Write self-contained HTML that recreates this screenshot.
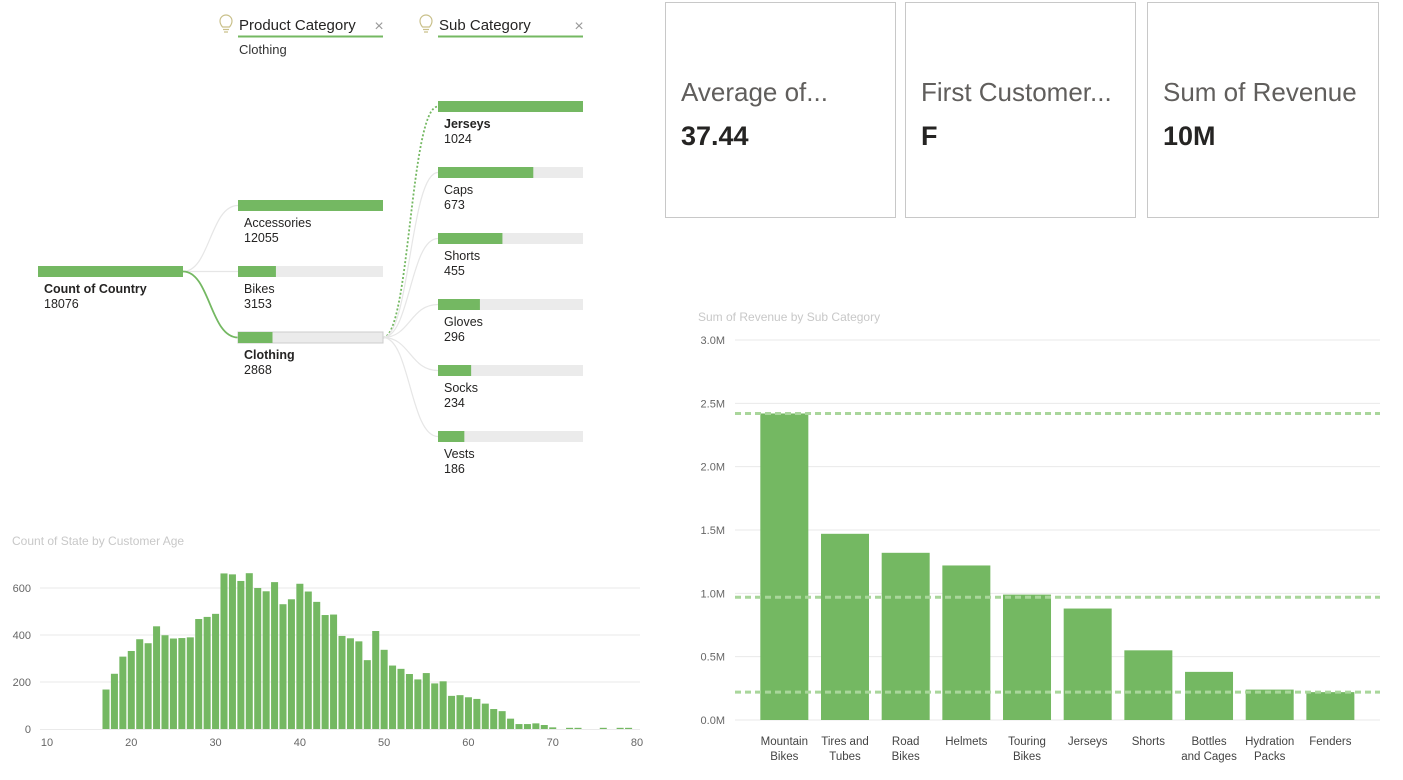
<!DOCTYPE html>
<html><head><meta charset="utf-8">
<style>
body{margin:0;width:1403px;height:766px;background:#fff;font-family:"Liberation Sans","DejaVu Sans",sans-serif;overflow:hidden;position:relative}
.card{position:absolute;top:2px;height:216px;border:1px solid #c8c8c8;box-sizing:border-box}
.card .t{position:absolute;left:15px;top:74px;font-size:26px;color:#605e5c;white-space:nowrap}
.card .v{position:absolute;left:15px;top:118px;font-size:27px;font-weight:bold;color:#252423}
</style></head><body>
<div class="card" style="left:665px;width:231px"><div class="t">Average of...</div><div class="v">37.44</div></div>
<div class="card" style="left:905px;width:231px"><div class="t">First Customer...</div><div class="v">F</div></div>
<div class="card" style="left:1147px;width:232px"><div class="t">Sum of Revenue</div><div class="v">10M</div></div>

<svg id="tree" width="600" height="490" style="position:absolute;left:0;top:0"></svg>
<svg id="hist" width="660" height="260" style="position:absolute;left:0;top:520"></svg>
<svg id="bar" width="740" height="480" style="position:absolute;left:663px;top:290px"></svg>

<script>
const NS="http://www.w3.org/2000/svg";
function mk(p,t,a,txt){const e=document.createElementNS(NS,t);for(const k in a)e.setAttribute(k,a[k]);if(txt!==undefined)e.textContent=txt;p.appendChild(e);return e;}

// ---------- Decomposition tree ----------
const rootLabel="Count of Country";const rootValue=18076;
const catNames=["Accessories","Bikes","Clothing"];
const catValues=[12055,3153,2868];
const subNames=["Jerseys","Caps","Shorts","Gloves","Socks","Vests"];
const subValues=[1024,673,455,296,234,186];
(function(){
const s=document.getElementById('tree');
[[226,"Product Category",238,383],[426,"Sub Category",438,583]].forEach(([ix,txt,x0,x1],i)=>{
 const g=mk(s,'g',{});
 
 
 mk(g,'path',{d:`M${ix-3.5},27 C${ix-6},24 ${ix-6},21 ${ix-6},21 A6,6 0 1 1 ${ix+6},21 C${ix+6},22 ${ix+6},24 ${ix+3.5},27 Z M${ix-3},29.5 L${ix+3},29.5 M${ix-2},32 L${ix+2},32`,fill:'none',stroke:'#c9c08a','stroke-width':1.2});
 mk(g,'text',{x:x0+1,y:30,'font-size':15,fill:'#252423'},txt);
 mk(g,'line',{x1:x0,x2:x1,y1:36.5,y2:36.5,stroke:'#74b862','stroke-width':2});
 mk(g,'text',{x:x1-4,y:31,'font-size':16,fill:'#999','text-anchor':'middle'},'×');
});
mk(s,'text',{x:239,y:54,'font-size':13,fill:'#333'},'Clothing');
function node(x,y,frac,name,val,bold,sel,nm){
 const g=mk(s,'g',{});
 
 
 mk(g,'rect',{x:x,y:y,width:145,height:11,fill:'#ebebeb',stroke:sel?'#ccc':'none'});
 mk(g,'rect',{x:x,y:y,width:145*frac,height:11,fill:'#74b862'});
 mk(g,'text',{x:x+6,y:y+27,'font-size':12.5,fill:'#252423','font-weight':bold?'bold':'normal'},name);
 mk(g,'text',{x:x+6,y:y+42,'font-size':12.5,fill:'#252423'},val);
}
const ry=271.5;
catValues.forEach((v,i)=>{const y=205.5+66*i;
 mk(s,'path',{d:`M183,${ry} C210,${ry} 210,${y} 238,${y}`,fill:'none',stroke:i==2?'#74b862':'#e6e6e6','stroke-width':i==2?1.8:1.2});});
subValues.forEach((v,i)=>{const y=106.5+66*i;
 mk(s,'path',{d:`M383,337.5 C410,337.5 410,${y} 438,${y}`,fill:'none',stroke:i==0?'#74b862':'#e6e6e6','stroke-width':i==0?1.8:1.2,'stroke-dasharray':i==0?'2,2':'none'});});
node(38,266,1,rootLabel,rootValue,true,false,'root-node');
const cmax=Math.max(...catValues);
catValues.forEach((v,i)=>node(238,200+66*i,v/cmax,catNames[i],v,i==2,i==2,'category-node-'+catNames[i].toLowerCase()));
const smax=Math.max(...subValues);
subValues.forEach((v,i)=>node(438,101+66*i,v/smax,subNames[i],v,i==0,false,'subcategory-node-'+subNames[i].toLowerCase()));
})();

// ---------- Histogram ----------
const ages=[17,18,19,20,21,22,23,24,25,26,27,28,29,30,31,32,33,34,35,36,37,38,39,40,41,42,43,44,45,46,47,48,49,50,51,52,53,54,55,56,57,58,59,60,61,62,63,64,65,66,67,68,69,70,71,72,73,74,75,76,77,78,79];
const counts=[168,235,308,332,382,365,437,399,385,387,390,468,477,490,662,658,630,663,600,586,625,531,552,618,585,541,485,487,396,386,373,293,417,337,270,256,234,211,238,194,203,141,144,135,128,108,85,76,44,21,21,24,17,7,0,5,5,0,0,5,0,5,5];
const histXTicks=[10,20,30,40,50,60,70,80];
const histYTicks=[0,200,400,600];
(function(){
const s=document.getElementById('hist');
const X=a=>47+(a-10)*(590/70), Y=v=>209-v*(141/600);
mk(s,'text',{x:12,y:25,'font-size':12,fill:'#c8c8c8'},'Count of State by Customer Age');
histYTicks.forEach(t=>{
 if(t>0)mk(s,'line',{x1:40,x2:640,y1:Y(t),y2:Y(t),stroke:'#eaeaea'});
 mk(s,'text',{x:31,y:Y(t)+4,'font-size':11,fill:'#666','text-anchor':'end'},t);
});
mk(s,'line',{x1:40,x2:640,y1:Y(0)+0.5,y2:Y(0)+0.5,stroke:'#eaeaea'});
histXTicks.forEach(t=>mk(s,'text',{x:X(t),y:226,'font-size':11,fill:'#666','text-anchor':'middle'},t));
const w=590/70;
ages.forEach((a,i)=>{const v=counts[i];if(v<=0)return;
 const r=mk(s,'rect',{x:X(a)-w/2+0.7,y:Y(v),width:w-1.4,height:Y(0)-Y(v),fill:'#74b862'});
 
 
});
})();

// ---------- Bar chart ----------
const subCats=["Mountain Bikes","Tires and Tubes","Road Bikes","Helmets","Touring Bikes","Jerseys","Shorts","Bottles and Cages","Hydration Packs","Fenders"];
const catLines=[["Mountain","Bikes"],["Tires and","Tubes"],["Road","Bikes"],["Helmets"],["Touring","Bikes"],["Jerseys"],["Shorts"],["Bottles","and Cages"],["Hydration","Packs"],["Fenders"]];
const revenue=[2.42,1.47,1.32,1.22,0.99,0.88,0.55,0.38,0.24,0.22];
const revTicks=[0,0.5,1.0,1.5,2.0,2.5,3.0];
const revTickLabels=["0.0M","0.5M","1.0M","1.5M","2.0M","2.5M","3.0M"];
(function(){
const s=document.getElementById('bar');
const oy=290;
const Y=v=>(720-oy)-v*(380/3), gx0=72, x0=91, step=60.67;
mk(s,'text',{x:35,y:31,'font-size':12,fill:'#c8c8c8'},'Sum of Revenue by Sub Category');
revTicks.forEach((t,i)=>{
 mk(s,'line',{x1:gx0,x2:717,y1:Y(t),y2:Y(t),stroke:'#eaeaea'});
 mk(s,'text',{x:62,y:Y(t)+4,'font-size':11,fill:'#666','text-anchor':'end'},revTickLabels[i]);
});
revenue.forEach((v,i)=>{
 const cx=x0+step*(i+0.5);
 const r=mk(s,'rect',{x:cx-24,y:Y(v),width:48,height:Y(0)-Y(v),fill:'#74b862'});
 
 
 catLines[i].forEach((l,j)=>mk(s,'text',{x:cx,y:455+j*15,'font-size':11.5,fill:'#444','text-anchor':'middle'},l));
});
const mx=Math.max(...revenue),mn=Math.min(...revenue),av=revenue.reduce((a,b)=>a+b,0)/revenue.length;
[mx,av,mn].forEach((v,i)=>{
 const l=mk(s,'line',{x1:gx0,x2:717,y1:Y(v),y2:Y(v),stroke:'#a9d69b','stroke-width':3,'stroke-dasharray':'6,4'});
 
 
});
})();
</script>
</body></html>
